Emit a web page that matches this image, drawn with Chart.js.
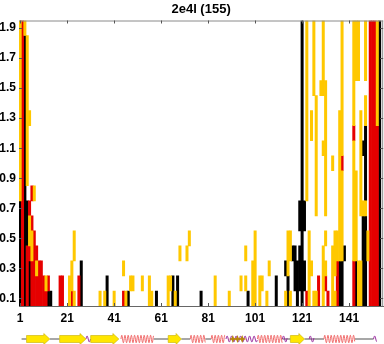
<!DOCTYPE html>
<html><head><meta charset="utf-8">
<script src="https://cdn.jsdelivr.net/npm/chart.js@4/dist/chart.umd.min.js"></script>
<style>
html,body{margin:0;padding:0;overflow:hidden;background:#fff;width:384px;height:344px}
#wrap{position:absolute;left:0;top:0;width:387px;height:344px}
</style></head>
<body><div id="wrap"><canvas id="c" width="387" height="344"></canvas></div>
<script>
const title = '2e4l (155)';
const residues = Array.from({length:155},(_,i)=>String(i+1));
const xTickLabels = ['1','21','41','61','81','101','121','141'];
const yTicks = [0.1,0.3,0.5,0.7,0.9,1.1,1.3,1.5,1.7,1.9];

// runs: [residue, from y, to y]
const yellowRuns = [
 [1,0.8,1.9],[3,1.9,1.9],[4,0.9,1.8],[5,1.3,1.3],[5,0.5,0.6],[6,0.4,0.5],[7,0.8,0.8],[8,0.3,0.3],[12,0.2,0.2],
 [22,0.1,0.2],[23,0.2,0.3],[24,0.1,0.1],[24,0.4,0.5],
 [35,0.1,0.1],[37,0.1,0.1],[41,0.1,0.1],[45,0.3,0.3],[46,0.1,0.1],[48,0.2,0.2],[49,0.2,0.2],[53,0.2,0.2],
 [56,0.1,0.2],[57,0.1,0.1],[64,0.1,0.2],[65,0.2,0.2],[67,0.1,0.1],[69,0.4,0.4],[72,0.4,0.4],[73,0.5,0.5],
 [84,0.1,0.2],[90,0.1,0.1],[95,0.2,0.2],[97,0.2,0.2],[97,0.4,0.4],[100,0.1,0.3],[101,0.1,0.5],[103,0.1,0.2],
 [104,0.2,0.2],[106,0.1,0.1],[107,0.3,0.3],[114,0.1,0.1],
 [115,0.3,0.5],[116,0.1,0.1],[116,0.4,0.5],[123,0.8,1.9],[124,0.1,0.5],[125,0.3,0.3],[125,1.2,1.3],
 [126,0.1,0.1],[126,1.5,1.9],[127,0.1,0.1],[127,0.7,1.4],[129,1.5,1.5],[130,0.1,0.4],[130,1.1,1.1],[130,1.5,1.9],
 [131,0.3,0.3],[131,0.5,0.5],[131,0.7,1.5],[134,0.1,0.4],[134,1.0,1.0],[135,0.1,0.1],[135,0.3,0.5],[136,0.4,0.5],
 [137,0.4,1.3],[138,0.4,0.9],[138,1.1,1.9],[143,0.4,1.1],[143,1.3,1.9],[144,0.4,0.9],[144,1.6,1.9],
 [145,0.1,0.3],[145,1.6,1.9],[146,0.1,0.3],[146,0.7,1.3],[147,0.7,0.7],[148,0.7,0.7],[148,1.3,1.4],[148,1.6,1.9],
 [149,0.4,0.5],[153,1.3,1.9]
];
const redRuns = [
 [2,0.1,1.9],[4,0.1,0.4],[5,0.4,0.4],[5,0.7,0.7],[6,0.1,0.3],[6,0.6,0.6],[6,0.8,0.8],[7,0.1,0.5],[8,0.1,0.2],
 [8,0.4,0.4],[9,0.1,0.3],[10,0.1,0.3],[11,0.1,0.2],[12,0.1,0.1],[13,0.2,0.2],[18,0.1,0.2],[19,0.1,0.2],
 [23,0.1,0.1],[26,0.1,0.2],[45,0.1,0.1],
 [123,0.1,0.1],[128,0.1,0.2],[131,0.2,0.2],[132,0.1,0.1],[136,0.1,0.3],[138,1.0,1.0],[143,0.1,0.3],[143,1.2,1.2],
 [150,0.1,1.9],[151,0.1,1.9],[152,0.1,1.9],[153,0.1,1.2]
];
const blackRuns = [
 [1,0.1,0.7],[3,0.1,1.8],[4,0.5,0.7],[5,0.1,0.3],[13,0.1,0.1],[14,0.1,0.1],[27,0.1,0.3],[38,0.1,0.2],[47,0.1,0.1],
 [59,0.1,0.1],[66,0.1,0.2],[68,0.1,0.2],[78,0.1,0.1],[98,0.1,0.1],[110,0.1,0.2],[114,0.3,0.3],
 [115,0.1,0.2],[117,0.4,0.4],[118,0.2,0.4],[119,0.1,0.3],[120,0.2,0.4],[120,0.6,0.7],[121,0.1,1.9],[122,0.2,0.3],[122,0.6,0.7],
 [137,0.1,0.3],[138,0.1,0.3],[139,0.4,0.4],[144,0.1,0.3],[147,0.1,0.6],[147,1.1,1.1],[148,0.1,0.6],[148,0.8,1.2],
 [154,0.1,1.9]
];

// secondary structure segments [from residue, to residue]
const ssCoil = [[1.6,3.7],[13.6,17.8],[57.8,64],[69.6,73.4],[79.8,82.3],[112.6,116],[122,130.3],[143.4,151.4]];
const ssStrand = [[3.7,13.6],[17.8,29],[31,43],[64,69.6],[116,122]];
const ssHelix = [[43.9,57.8],[73.4,79.8],[82.3,88.2],[102,112.6],[130.3,143.4]];
const ssTurn = [[29,31],[88.6,102],[112.6,114.7],[124,126.1],[151.4,152.7]];
const ssBend = [91.5,93.5,95.5];

const COLORS = {yellow:'#FFC800', red:'#E60000', black:'#000000'};
const HALF = 0.05;
const toBars = runs => runs.map(r => ({x:String(r[0]), y:[r[1]-HALF, r[2]+HALF]}));

const FONT = 'Liberation Sans, Arial, Helvetica, sans-serif';

const frame = {
  id:'frame',
  afterDatasetsDraw(chart){
    const {ctx, chartArea:a, scales:{x, y}} = chart;
    ctx.save();
    ctx.strokeStyle = '#8a8a8a'; ctx.lineWidth = 1;
    ctx.beginPath();
    ctx.moveTo(a.left, a.top+0.5); ctx.lineTo(a.right, a.top+0.5);
    ctx.moveTo(a.right-0.5, a.top); ctx.lineTo(a.right-0.5, a.bottom);
    ctx.stroke();
    ctx.strokeStyle = '#555';
    ctx.beginPath();
    xTickLabels.forEach(l => {
      const px = Math.round(x.getPixelForValue(residues.indexOf(l)))+0.5;
      ctx.moveTo(px, a.top); ctx.lineTo(px, a.top+3);
      ctx.moveTo(px, a.bottom); ctx.lineTo(px, a.bottom-3);
    });
    yTicks.forEach(v => {
      const py = Math.round(y.getPixelForValue(v))+0.5;
      ctx.moveTo(a.left, py); ctx.lineTo(a.left+3, py);
      ctx.moveTo(a.right, py); ctx.lineTo(a.right-3, py);
    });
    ctx.stroke();
    // title
    ctx.fillStyle = '#000';
    ctx.font = 'bold 13px ' + FONT;
    ctx.textAlign = 'center'; ctx.textBaseline = 'middle';
    ctx.fillText(title, (a.left + a.right)/2, 9);
    ctx.restore();
  },
  afterDraw(chart){
    const {ctx, scales:{x}} = chart;
    const px = r => x.getPixelForValue(r - 1);
    const cy = 339;
    ctx.save();
    ctx.strokeStyle = '#505050'; ctx.lineWidth = 1.2;
    ctx.beginPath();
    ssCoil.forEach(([s,e]) => { ctx.moveTo(px(s), cy); ctx.lineTo(px(e), cy); });
    ctx.stroke();
    const wave = (s, e, amp, period, color) => {
      ctx.strokeStyle = color; ctx.lineWidth = 1;
      ctx.beginPath();
      const x0 = px(s), x1 = px(e);
      for (let xx = x0; xx <= x1; xx += 0.25) {
        const yy = cy - amp * Math.sin((xx - x0) / period * 2 * Math.PI);
        if (xx === x0) ctx.moveTo(xx, yy); else ctx.lineTo(xx, yy);
      }
      ctx.stroke();
    };
    ssHelix.forEach(([s,e]) => wave(s, e, 3.8, 3.2, '#F06A6A'));
    ssTurn.forEach(([s,e]) => wave(s, e, 3, 4.5, '#9B30A0'));
    ssStrand.forEach(([s,e]) => {
      const x0 = px(s), x1 = px(e), head = Math.min(6, (x1-x0)*0.4);
      ctx.fillStyle = '#FFE600'; ctx.strokeStyle = '#C8B000'; ctx.lineWidth = 0.6;
      ctx.beginPath();
      ctx.moveTo(x0, cy-3.5); ctx.lineTo(x1-head, cy-3.5); ctx.lineTo(x1-head, cy-5.5);
      ctx.lineTo(x1, cy); ctx.lineTo(x1-head, cy+5.5); ctx.lineTo(x1-head, cy+3.5);
      ctx.lineTo(x0, cy+3.5); ctx.closePath();
      ctx.fill(); ctx.stroke();
    });
    ctx.fillStyle = '#B8860B';
    ssBend.forEach(r => {
      const c = px(r);
      ctx.beginPath();
      ctx.moveTo(c, cy-4); ctx.lineTo(c+1.2, cy-1); ctx.lineTo(c+4, cy); ctx.lineTo(c+1.2, cy+1);
      ctx.lineTo(c, cy+4); ctx.lineTo(c-1.2, cy+1); ctx.lineTo(c-4, cy); ctx.lineTo(c-1.2, cy-1);
      ctx.closePath(); ctx.fill();
    });
    ctx.restore();
  }
};

new Chart(document.getElementById('c'), {
  type:'bar',
  data:{
    labels: residues,
    datasets:[
      {label:'yellow', data:toBars(yellowRuns), backgroundColor:COLORS.yellow},
      {label:'red', data:toBars(redRuns), backgroundColor:COLORS.red},
      {label:'black', data:toBars(blackRuns), backgroundColor:COLORS.black}
    ]
  },
  options:{
    responsive:false, animation:false, devicePixelRatio:1,
    datasets:{bar:{grouped:false, barPercentage:1, categoryPercentage:1, borderWidth:0, borderSkipped:false}},
    layout:{padding:{top:20.5, left:0, right:0, bottom:0}},
    plugins:{legend:{display:false}, tooltip:{enabled:false}, title:{display:false}},
    scales:{
      x:{
        type:'category',
        grid:{display:false, drawTicks:false},
        border:{display:true, color:'#666', width:1},
        ticks:{autoSkip:false, maxRotation:0, padding:5, color:'#000',
          font:{family:FONT, size:12, weight:'bold'},
          callback:(v,i)=> xTickLabels.includes(residues[i]) ? residues[i] : ''},
        afterFit:s=>{ s.height = 38; }
      },
      y:{
        type:'linear', min:0.05, max:1.95,
        grid:{display:false, drawTicks:false},
        border:{display:false},
        afterBuildTicks:s=>{ s.ticks = yTicks.map(v=>({value:v})); },
        ticks:{padding:3, color:'#000', font:{family:FONT, size:12, weight:'bold'},
          callback:v=>Number(v).toFixed(1)},
        afterFit:s=>{ s.width = 19; }
      }
    }
  },
  plugins:[frame]
});
</script></body></html>
